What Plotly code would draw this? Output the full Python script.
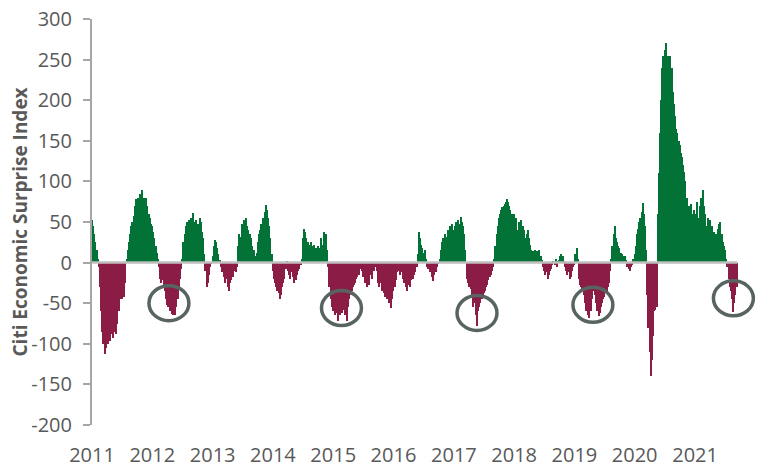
import pandas as pd
import plotly.graph_objects as go

# Weekly readings of the Citi Economic Surprise Index, one list per calendar year
cesi_2011 = [52, 45, 35, 25, 15, 5, -5, -30, -60, -85, -100, -113, -105, -95, -100, -92,
             -97, -88, -93, -85, -80, -88, -75, -60, -45, -42, -45, -40, -42, -25, 5, 15,
             25, 35, 45, 50, 58, 70, 78, 75, 80, 72, 85, 90, 78, 80, 78, 80, 70, 60, 55, 48]
cesi_2012 = [45, 38, 30, 20, 12, 4, -5, -20, -25, -22, -28, -35, -45, -52, -55, -60,
             -58, -63, -65, -62, -64, -55, -45, -30, -20, -8, 5, 25, 35, 45, 50, 40,
             52, 48, 55, 61, 50, 45, 52, 40, 48, 55, 50, 38, 30, 10, -10, -30, -25, -15, -5, -2]
cesi_2013 = [8, 20, 28, 25, 18, 10, 3, -5, -12, -10, -18, -25, -20, -30, -35, -25,
             -22, -15, -18, -10, -12, -5, 20, 35, 32, 48, 42, 52, 50, 55, 45, 40,
             35, 30, 20, 12, 15, 8, 12, 25, 35, 40, 48, 45, 55, 62, 71, 65, 55, 45, 30, 10]
cesi_2014 = [-10, -20, -25, -30, -35, -38, -45, -40, -30, -25, -20, -8, 2, -10, -15, -20,
             -12, -18, -25, -20, -22, -15, -10, -8, -3, 5, 30, 42, 38, 30, 25, 22,
             18, 25, 20, 15, 22, 18, 15, 20, 12, 18, 30, 22, 38, 30, 35, 15, -5, -30, -45, -55]
cesi_2015 = [-60, -58, -65, -62, -72, -60, -65, -55, -62, -58, -65, -55, -72, -55, -45, -40,
             -35, -30, -28, -25, -20, -18, -15, -8, -5, -10, -18, -12, -25, -30, -20, -28,
             -15, -12, -20, -10, -5, -2, -10, -25, -30, -25, -35, -30, -38, -42, -40, -45,
             -50, -48, -56, -45]
cesi_2016 = [-35, -30, -22, -12, -5, -10, -15, -12, -20, -25, -22, -30, -35, -28, -30, -22,
             -18, -20, -15, -12, -5, 10, 38, 30, 22, 18, 12, 15, 5, -5, -8, -5,
             -12, -18, -23, -15, -10, -12, -5, -2, 5, 15, 25, 30, 28, 35, 32, 40, 38, 45, 42, 48]
cesi_2017 = [40, 45, 50, 42, 52, 48, 56, 50, 45, 35, 15, -20, -25, -30, -28, -33,
             -40, -55, -50, -65, -78, -60, -55, -50, -45, -40, -38, -35, -30, -28, -22, -18,
             -15, -10, -5, 5, 20, 35, 45, 55, 60, 65, 68, 70, 72, 75, 78, 75, 70, 65, 60, 55]
cesi_2018 = [60, 45, 55, 40, 50, 45, 52, 38, 45, 40, 30, 35, 40, 30, 22, 15,
             14, 12, 15, 10, 14, 12, 15, 8, 3, -5, -10, -15, -12, -20, -15, -10,
             -8, -3, 2, -3, 5, -5, 2, 3, 8, 10, 8, 2, -5, -10, -15, -12, -20, -18, -10, -5]
cesi_2019 = [-3, 10, 18, 5, -20, -28, -30, -33, -40, -50, -60, -55, -65, -68, -60, -45,
             -35, -33, -40, -50, -60, -66, -62, -55, -50, -45, -42, -38, -35, -30, -25, -10,
             5, 20, 35, 45, 30, 25, 20, 18, 12, 10, 8, 5, 8, 3, -5, -8, -10, -6, -3, 5]
cesi_2020 = [10, 20, 35, 42, 50, 55, 62, 73, 60, 45, 15, -40, -80, -110, -140, -120,
             -90, -60, -58, -55, 60, 110, 160, 200, 240, 255, 262, 270, 245, 255, 250, 255,
             240, 210, 195, 180, 165, 160, 150, 145, 135, 130, 120, 112, 100, 80, 65, 70,
             55, 72, 60, 65]
cesi_2021 = [55, 60, 75, 55, 70, 80, 75, 89, 70, 60, 45, 55, 48, 52, 40, 45,
             38, 30, 35, 28, 42, 48, 50, 35, 25, 20, 15, 5, -5, -20, -30, -35,
             -45, -61, -50, -40, -30]

years = list(range(2011, 2022))
yearly = [cesi_2011, cesi_2012, cesi_2013, cesi_2014, cesi_2015, cesi_2016,
          cesi_2017, cesi_2018, cesi_2019, cesi_2020, cesi_2021]

# Circled troughs (annotation centres)
circle_dates = ["2012-04-11", "2015-02-20", "2017-05-21", "2019-04-23", "2021-08-21"]
circle_values = [-50, -56, -62, -52, -44]

x_tick_labels = [str(y) for y in years]
y_tick_values = [-200, -150, -100, -50, 0, 50, 100, 150, 200, 250, 300]
y_tick_labels = ["-200", "-150", "-100", "-50", "0", "50", "100", "150", "200", "250", "300"]

dates, values = [], []
for yr, vals in zip(years, yearly):
    d = pd.date_range(f"{yr}-01-01", periods=len(vals), freq="7D")
    dates.extend(d)
    values.extend(vals)

GREEN = "#037236"
MAROON = "#8a1c45"
colors = [GREEN if v >= 0 else MAROON for v in values]
week_ms = 7 * 24 * 3600 * 1000

fig = go.Figure(go.Bar(
    x=dates, y=values, width=[week_ms] * len(values),
    marker=dict(color=colors, line=dict(width=0)),
    hoverinfo="x+y",
))

shapes = []
# zero line only across the data span
shapes.append(dict(type="line", xref="x", yref="y", x0="2011-01-01", x1=dates[-1] + pd.Timedelta(days=4),
                   y0=0, y1=0, line=dict(color="#bfbfbf", width=2.5), layer="above"))
for d, v in zip(circle_dates, circle_values):
    c = pd.Timestamp(d)
    shapes.append(dict(type="circle", xref="x", yref="y",
                       x0=c - pd.Timedelta(days=121), x1=c + pd.Timedelta(days=121),
                       y0=v - 21.5, y1=v + 21.5,
                       line=dict(color="#586461", width=3.5)))

fig.update_layout(
    width=757, height=468,
    margin=dict(l=92, r=0, t=19, b=43),
    paper_bgcolor="white", plot_bgcolor="white",
    bargap=0, showlegend=False,
    font=dict(family="Open Sans", color="#595959", size=20),
    shapes=shapes,
    annotations=[dict(text="<b>Citi Economic Surprise Index</b>", textangle=-90,
                      xref="paper", yref="paper", x=-0.109, y=0.5,
                      xanchor="center", yanchor="middle", showarrow=False,
                      font=dict(family="Open Sans", size=19, color="#595959"))],
)
fig.update_xaxes(
    type="date", range=["2011-01-01", "2022-01-11"], automargin=False,
    tickvals=[f"{y}-01-01" for y in years], ticktext=x_tick_labels,
    showgrid=False, zeroline=False, showline=False,
    ticks="outside", ticklen=12, tickcolor="rgba(0,0,0,0)",
    ticklabeloverflow="allow",
)
fig.update_yaxes(
    range=[-200, 300], tickvals=y_tick_values, ticktext=y_tick_labels, automargin=False,
    showgrid=False, zeroline=False,
    showline=True, linecolor="#a6a6a6", linewidth=2,
    ticks="outside", ticklen=7, tickwidth=2, tickcolor="#a6a6a6",
    ticklabelstandoff=7, ticklabeloverflow="allow",
)
fig.write_html("out.html", config={"displayModeBar": False},
               post_script="document.body.style.margin='0';document.body.style.overflow='hidden';")
